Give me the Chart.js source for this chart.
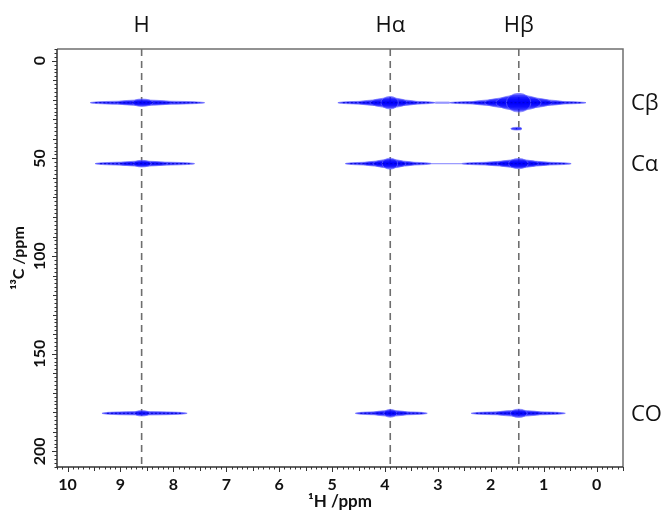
<!DOCTYPE html>
<html>
<head>
<meta charset="utf-8">
<script src="https://cdn.jsdelivr.net/npm/chart.js@4"></script>
<style>
html,body{margin:0;padding:0;background:#fff;}
#wrap{width:669px;height:512px;position:relative;}
</style>
</head>
<body>
<div id="wrap"><canvas id="c" width="669" height="512"></canvas></div>
<script>
// ---- data (ppm) ----
const xTicks = [10, 9, 8, 7, 6, 5, 4, 3, 2, 1, 0];
const yTicks = [0, 50, 100, 150, 200];
const xRange = [-0.5, 10.2];
const yRange = [-6, 208];

// assignment lines (1H shift) and their labels
const hLines = [8.6, 3.9, 1.47];
const hLabels = ['H', 'Hα', 'Hβ'];
// carbon rows and labels
const cRows = [21.5, 52.7, 180.5];
const cLabels = ['Cβ', 'Cα', 'CO'];

// cross peaks
const peakH    = [8.6,  8.6,  8.6,   3.9,  1.47, 3.9,  1.47, 3.9,   1.47,  1.5];
const peakC    = [21.5, 52.7, 180.5, 21.5, 21.5, 52.7, 52.7, 180.5, 180.5, 34.8];
const peakHmax = [9.57, 9.48, 9.35,  4.89, 2.78, 4.75, 2.55, 4.56,  2.37,  1.62];
const peakHmin = [7.41, 7.60, 7.74,  3.05, 0.20, 3.12, 0.48, 3.20,  0.59,  1.41];
const peakHalf = [1.9,  1.7,  1.4,   3.2,  4.8,  2.8,  2.6,  2.0,   2.1,   0.7];  // C half-height (ppm)
const peakLevels = [3, 3, 2, 4, 5, 4, 4, 3, 3, 1];

// weak ridges joining Hα and Hβ peaks
const ridgeC   = [21.5, 52.7];
const ridgeH1  = [3.05, 3.12];
const ridgeH2  = [2.78, 2.55];
const ridgeW   = [2.2, 1.2];

// ---- datasets ----
const datasets = [];
hLines.forEach(h => {
  datasets.push({
    type: 'line', data: [{x: h, y: yRange[0]}, {x: h, y: yRange[1]}],
    borderColor: '#6e6e6e', borderWidth: 1.6, borderDash: [7, 5],
    pointRadius: 0, fill: false, order: 5
  });
});
ridgeC.forEach((c, i) => {
  datasets.push({
    type: 'line', data: [{x: ridgeH1[i], y: c}, {x: ridgeH2[i], y: c}],
    borderColor: 'rgba(80,80,255,0.6)', borderWidth: ridgeW[i],
    pointRadius: 0, fill: false, order: 4
  });
});
datasets.push({
  type: 'scatter',
  data: peakH.map((h, i) => ({x: h, y: peakC[i]})),
  pointRadius: 0, order: 1
});

// ---- plugin: contour-like peaks, frame, minor ticks, labels ----
const nmrPlugin = {
  id: 'nmr',
  afterDatasetsDraw(chart) {
    const {ctx, scales: {x, y}, chartArea: a} = chart;
    ctx.save();
    ctx.beginPath(); ctx.rect(a.left, a.top, a.right - a.left, a.bottom - a.top); ctx.clip();
    const blob = (xl, xr, xc, yc, h) => {
      ctx.beginPath();
      ctx.ellipse(xc, yc, xc - xl, h, 0, Math.PI / 2, Math.PI * 1.5);
      ctx.ellipse(xc, yc, xr - xc, h, 0, -Math.PI / 2, Math.PI / 2);
      ctx.closePath();
    };
    peakH.forEach((h, i) => {
      const xc = x.getPixelForValue(h);
      const yc = y.getPixelForValue(peakC[i]);
      const xl = x.getPixelForValue(peakHmax[i]);
      const xr = x.getPixelForValue(peakHmin[i]);
      const hp = Math.abs(y.getPixelForValue(peakC[i] + peakHalf[i]) - yc);
      const n = peakLevels[i];
      for (let k = 0; k < n; k++) {
        const t = n === 1 ? 0 : k / (n - 1);
        const wf = 1 - 0.82 * Math.pow(t, 0.7);
        const hk = n === 1 ? hp : 1.7 + (hp - 1.7) * t;
        blob(xc - (xc - xl) * wf, xc + (xr - xc) * wf, xc, yc, hk);
        ctx.fillStyle = k === 0 ? 'rgba(20,20,255,0.85)' : 'rgba(0,0,255,0.55)';
        ctx.fill();
        ctx.lineWidth = 0.8;
        ctx.strokeStyle = 'rgba(110,110,255,0.85)';
        ctx.stroke();
      }
      // dotted centre trace
      ctx.beginPath();
      ctx.setLineDash([2, 2]);
      ctx.moveTo(xl + 5, yc); ctx.lineTo(xr - 5, yc);
      ctx.strokeStyle = 'rgba(0,0,200,0.9)'; ctx.lineWidth = 1;
      ctx.stroke();
      ctx.setLineDash([]);
    });
    ctx.restore();

    // frame
    ctx.save();
    ctx.strokeStyle = '#6f6f6f'; ctx.lineWidth = 1.5;
    ctx.beginPath();
    ctx.moveTo(a.left, a.top); ctx.lineTo(a.right, a.top); ctx.lineTo(a.right, a.bottom);
    ctx.stroke();
    ctx.strokeStyle = '#333'; ctx.lineWidth = 1.5;
    ctx.beginPath();
    ctx.moveTo(a.left, a.top); ctx.lineTo(a.left, a.bottom); ctx.lineTo(a.right, a.bottom);
    ctx.stroke();

    // minor ticks (outside)
    ctx.strokeStyle = '#333'; ctx.lineWidth = 1;
    for (let v = -5; v <= 102; v++) {
      const val = v / 10;
      if (val < xRange[0] || val > xRange[1]) continue;
      const px = Math.round(x.getPixelForValue(val)) + 0.5;
      const len = v % 10 === 0 ? 5 : (v % 5 === 0 ? 4 : 2.5);
      ctx.beginPath(); ctx.moveTo(px, a.bottom); ctx.lineTo(px, a.bottom + len); ctx.stroke();
    }
    for (let v = -6; v <= 208; v += 2) {
      const py = Math.round(y.getPixelForValue(v)) + 0.5;
      const len = v % 50 === 0 ? 5 : (v % 10 === 0 ? 4 : 2.5);
      ctx.beginPath(); ctx.moveTo(a.left, py); ctx.lineTo(a.left - len, py); ctx.stroke();
    }

    // top labels
    ctx.fillStyle = '#111';
    ctx.font = '22px "Open Sans"';
    ctx.textAlign = 'center'; ctx.textBaseline = 'middle';
    hLines.forEach((h, i) => ctx.fillText(hLabels[i], x.getPixelForValue(h), 26));
    // right labels
    ctx.textAlign = 'left';
    cRows.forEach((c, i) => ctx.fillText(cLabels[i], a.right + 8, y.getPixelForValue(c) + 1));
    ctx.restore();
  }
};

new Chart(document.getElementById('c'), {
  type: 'scatter',
  data: {datasets},
  plugins: [nmrPlugin],
  options: {
    responsive: false, animation: false,
    layout: {padding: {top: 49, right: 46, left: 0, bottom: 0}},
    plugins: {legend: {display: false}, tooltip: {enabled: false}},
    scales: {
      x: {
        type: 'linear', reverse: true, min: xRange[0], max: xRange[1],
        afterBuildTicks: s => { s.ticks = xTicks.map(v => ({value: v})); },
        afterFit: s => { s.height = 45; },
        grid: {display: false, drawTicks: false},
        border: {display: false},
        ticks: {padding: 8, color: '#111', font: {family: 'Lato', weight: 'bold', size: 16}, maxRotation: 0, autoSkip: false},
        title: {display: true, text: '¹H /ppm', color: '#111', padding: {top: 0, bottom: 0}, font: {family: 'Lato', weight: 'bold', size: 17}}
      },
      y: {
        type: 'linear', reverse: true, min: yRange[0], max: yRange[1],
        afterBuildTicks: s => { s.ticks = yTicks.map(v => ({value: v})); },
        afterFit: s => { s.width = 57; },
        grid: {display: false, drawTicks: false},
        border: {display: false},
        ticks: {padding: 3, crossAlign: 'center', color: '#111', minRotation: 90, maxRotation: 90, font: {family: 'Lato', weight: 'bold', size: 16}, autoSkip: false},
        title: {display: true, text: '¹³C /ppm', color: '#111', padding: {top: 9, bottom: 0}, font: {family: 'Lato', weight: 'bold', size: 16}}
      }
    }
  }
});
</script>
</body>
</html>
